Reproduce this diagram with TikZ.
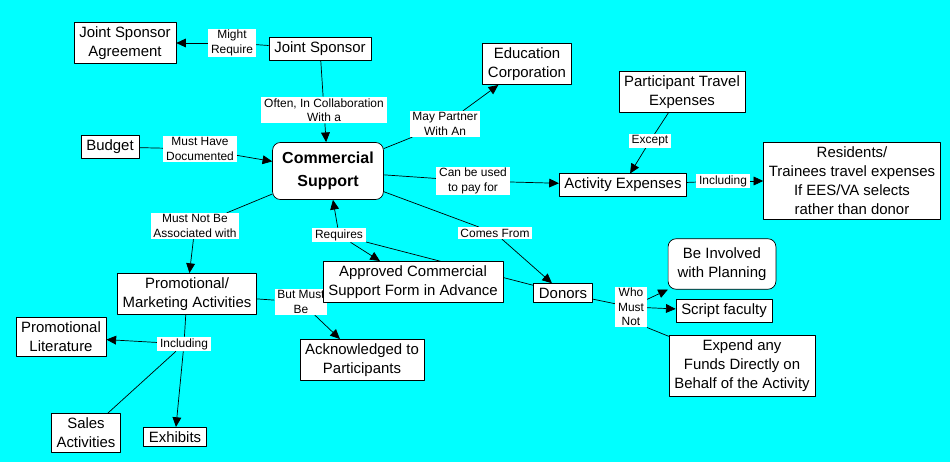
\documentclass[tikz,border=0pt]{standalone}
\usepackage{fontspec}
\setmainfont{Liberation Sans}
\usetikzlibrary{arrows.meta}
\definecolor{mapcyan}{RGB}{0,255,255}
\pgfdeclarelayer{bg}
\pgfdeclarelayer{edges}
\pgfsetlayers{bg,edges,main}

\begin{document}
\begin{tikzpicture}[x=0.02cm, y=-0.02cm, line join=round, line width=0.6pt,
		>={Triangle[length=5.5pt,width=5pt]},
		concept/.style={draw, fill=white, align=center, inner xsep=3pt, inner ysep=2.4pt,
			font=\fontsize{8.5pt}{10.8pt}\selectfont},
		linkword/.style={fill=white, align=center, inner xsep=1.6pt, inner ysep=0.8pt,
			font=\fontsize{6.8pt}{8.2pt}\selectfont}]
	
	\useasboundingbox (0,0) rectangle (950,462);
	\begin{pgfonlayer}{bg}
		\fill[mapcyan] (0,0) rectangle (950,462);
	\end{pgfonlayer}
	
	% linking phrases
	\foreach \n/\p/\t in {
		mightreq/{232,43}/{Might\\Require},
		often/{324,110}/{Often, In Collaboration\\With a},
		musthave/{200,149}/{Must Have\\Documented},
		maypartner/{445,124}/{May Partner\\With An},
		except/{650,141}/{Except},
		canbeused/{473,181}/{Can be used\\to pay for},
		inclexp/{723,181}/{Including},
		mustnot/{195,226}/{Must Not Be\\Associated with},
		requires/{339,235}/{Requires},
		comesfrom/{495,233}/{Comes From},
		butmust/{301,302}/{But Must\\Be},
		whomust/{631,307}/{Who\\Must\\Not},
		inclpromo/{184,344}/{Including}}{
		\node[linkword] (\n) at (\p) {\t};
	}
	
	% concepts
	\node[concept, rounded corners=4.5pt, inner xsep=5.5pt, inner ysep=5.5pt,
		font=\fontsize{9.1pt}{13pt}\selectfont\bfseries] (cs) at (328,171) {Commercial\\Support};
	\node[concept, rounded corners=4.5pt, inner xsep=5.4pt, inner ysep=5pt] (involved) at (722,264) {Be Involved\\with Planning};
	\foreach \n/\p/\t in {
		jsa/{125,43}/{Joint Sponsor\\Agreement},
		js/{320,49}/{Joint Sponsor},
		edu/{527,64}/{Education\\Corporation},
		ptravel/{682,92}/{Participant Travel\\Expenses},
		budget/{110,147}/{Budget},
		actexp/{623,185}/{Activity Expenses},
		residents/{852,181}/{Residents/\\Trainees travel expenses\\If EES/VA selects\\rather than donor},
		promo/{187,294}/{Promotional/\\Marketing Activities},
		approved/{413,282}/{Approved Commercial\\Support Form in Advance},
		donors/{563,293}/{Donors},
		script/{724,311}/{Script faculty},
		expend/{742,366}/{Expend any\\Funds Directly on\\Behalf of the Activity},
		lit/{61,337}/{Promotional\\Literature},
		ack/{362,360}/{Acknowledged to\\Participants},
		sales/{86,433}/{Sales\\Activities},
		exhibits/{175,437}/{Exhibits}}{
		\node[concept] (\n) at (\p) {\t};
	}
	
	\begin{pgfonlayer}{edges}
		\foreach \a/\b in {js/mightreq, js/often, budget/musthave, cs/maypartner, cs/canbeused,
			cs/comesfrom, cs/mustnot, ptravel/except, actexp/inclexp, promo/inclpromo,
			inclpromo/sales, promo/butmust, donors/whomust, donors/requires}{
			\draw (\a) -- (\b);
		}
		\draw (whomust.south east) -- (expend);
		\foreach \a/\b in {mightreq/jsa, often/cs, musthave/cs, maypartner/edu, canbeused/actexp,
			comesfrom/donors, mustnot/promo, except/actexp, inclexp/residents, inclpromo/lit,
			inclpromo/exhibits, butmust/ack, whomust/involved, whomust/script,
			requires/cs, requires/approved}{
			\draw[->] (\a) -- (\b);
		}
	\end{pgfonlayer}
\end{tikzpicture}
\end{document}
